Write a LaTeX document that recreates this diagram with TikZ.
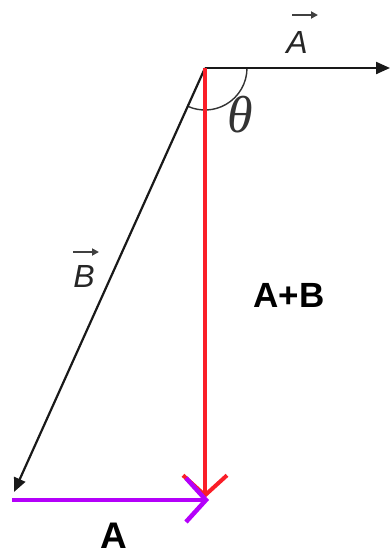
\documentclass[tikz,border=0pt]{standalone}
\usepackage{fontspec}
\setmainfont{Liberation Sans}
\newfontfamily\thetafont{Liberation Serif}
\usetikzlibrary{arrows.meta}
\definecolor{vred}{RGB}{250,30,40}
\definecolor{vpurple}{RGB}{180,0,250}
\begin{document}
\begin{tikzpicture}[x=1pt,y=-1pt,
  vecline/.style={line width=2.2pt,black!90},
  filledtip/.style={-{Triangle[length=14pt,width=12pt]}},
  barbtip/.style={-{Straight Barb[length=20pt,width=44pt]}},
  smallarrow/.style={line width=1.8pt,black!75,-{Triangle[length=7pt,width=7pt]}},
  lbl/.style={inner sep=0pt,font=\fontsize{35}{35}\selectfont\bfseries},
  vlbl/.style={inner sep=0pt,text=black!85,font=\fontsize{32}{32}\selectfont\itshape}]
\useasboundingbox (0,0) rectangle (390,557);
\coordinate (O) at (205,68);
\coordinate (Aend) at (390,68);
\coordinate (Bend) at (14,492);
\coordinate (R) at (205,498);
\coordinate (P0) at (12,500);
\coordinate (P1) at (209,500);
% angle arc
\draw[line width=1.4pt,black!80] ([shift={(0:42)}]O) arc[start angle=0,end angle=114,radius=42];
% vectors
\draw[vecline,filledtip] (O) -- (Aend);
\draw[vecline,filledtip] (O) -- (Bend);
\draw[line width=4pt,vred,barbtip] (O) -- (R);
\draw[line width=4.5pt,vpurple,barbtip] (P0) -- (P1);
% labels
\node[vlbl] (la) at (297,42) {A};
\node[vlbl] (lb) at (84,276) {B};
\coordinate (la0) at (292,15);
\coordinate (la1) at (318,15);
\coordinate (lb0) at (73,252);
\coordinate (lb1) at (99,252);
\draw[smallarrow] (la0) -- (la1);
\draw[smallarrow] (lb0) -- (lb1);
\node[inner sep=0pt,text=black!80,font=\fontsize{52}{52}\selectfont\thetafont\itshape] (lt) at (240,115) {θ};
\node[lbl] (lab) at (289,295) {A+B};
\node[lbl,font=\fontsize{37}{37}\selectfont\bfseries] (lA) at (114,536) {A};
\end{tikzpicture}
\end{document}
